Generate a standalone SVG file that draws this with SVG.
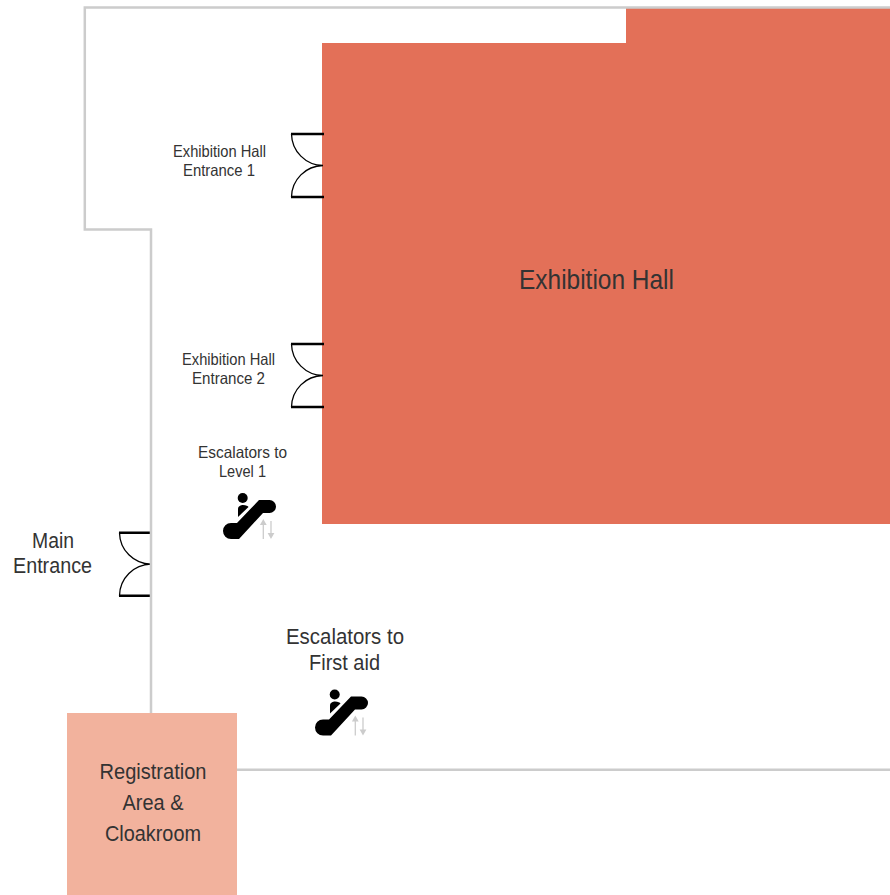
<svg xmlns="http://www.w3.org/2000/svg" width="890" height="895" viewBox="0 0 890 895">
<style>
.wall{fill:none;stroke:#ccc;stroke-width:2.5}
.bar{fill:none;stroke:#000;stroke-width:2.5}
.arc{fill:none;stroke:#000;stroke-width:1.3}
text{font-family:"Liberation Sans","Arial",sans-serif;fill:#333;text-anchor:middle}
.s{font-size:16.5px}
.m{font-size:21.5px}
.l{font-size:27.5px}
.ar{fill:none;stroke:#ccc;stroke-width:1.3}
.arh{fill:#ccc}
</style>
<defs>
<g id="door">
<path class="bar" d="M0 1H33M0 64H33"/>
<path class="arc" d="M0.500 1A32 32 0 0 0 32 32.500M0.500 64A32 32 0 0 1 32 32.500"/>
</g>
<g id="esc">
<circle cx="19.700" cy="4" r="5" fill="#000"/>
<path d="M15 23V15C15 12 18 11 20 11C23 11 25 12 25.500 13Z" fill="#000"/>
<path d="M8 29H14L36 6H46.500A6.500 6.500 0 0 1 46.500 19H40L16 45H8A8 8 0 0 1 8 29Z" fill="#000"/>
<path class="ar" d="M40.300 45V29M48 27V41"/>
<path class="arh" d="M40.300 25L43.700 31H36.900ZM48 45L44.600 39H51.400Z"/>
</g>
</defs>
<g id="exhibition-hall">
<path d="M626 8H890V524H322V43H626Z" fill="#e37058"/>
<text class="l" x="596.500" y="289" textLength="155" lengthAdjust="spacingAndGlyphs">Exhibition Hall</text>
</g>
<g id="registration">
<rect x="67" y="713" width="170" height="182" fill="#f2b29d"/>
<text class="m" x="153" y="779" textLength="107" lengthAdjust="spacingAndGlyphs">Registration</text>
<text class="m" x="153" y="810" textLength="61" lengthAdjust="spacingAndGlyphs">Area &amp;</text>
<text class="m" x="153" y="841" textLength="96" lengthAdjust="spacingAndGlyphs">Cloakroom</text>
</g>
<g id="door-1">
<use href="#door" x="291" y="133"/>
<text class="s" x="219.500" y="157" textLength="93" lengthAdjust="spacingAndGlyphs">Exhibition Hall</text>
<text class="s" x="219" y="176" textLength="72" lengthAdjust="spacingAndGlyphs">Entrance 1</text>
</g>
<g id="door-2">
<use href="#door" x="291" y="343"/>
<text class="s" x="228.500" y="365" textLength="93" lengthAdjust="spacingAndGlyphs">Exhibition Hall</text>
<text class="s" x="228.500" y="384" textLength="73" lengthAdjust="spacingAndGlyphs">Entrance 2</text>
</g>
<g id="main-entrance">
<use href="#door" x="119" y="531.700"/>
<text class="m" x="53" y="548" textLength="42" lengthAdjust="spacingAndGlyphs">Main</text>
<text class="m" x="52.500" y="573" textLength="79" lengthAdjust="spacingAndGlyphs">Entrance</text>
</g>
<g id="escalators-level-1">
<use href="#esc" x="223" y="494"/>
<text class="s" x="242.500" y="458" textLength="89" lengthAdjust="spacingAndGlyphs">Escalators to</text>
<text class="s" x="242.500" y="477" textLength="47" lengthAdjust="spacingAndGlyphs">Level 1</text>
</g>
<g id="escalators-first-aid">
<use href="#esc" x="315" y="690.500"/>
<text class="m" x="345" y="644" textLength="118" lengthAdjust="spacingAndGlyphs">Escalators to</text>
<text class="m" x="344.500" y="670" textLength="71" lengthAdjust="spacingAndGlyphs">First aid</text>
</g>
<g id="walls">
<path class="wall" d="M890 7.500H84.800V229.500H151V713"/>
<path class="wall" d="M237 769.800H890"/>
</g>
<g id="connectors"></g>
</svg>
